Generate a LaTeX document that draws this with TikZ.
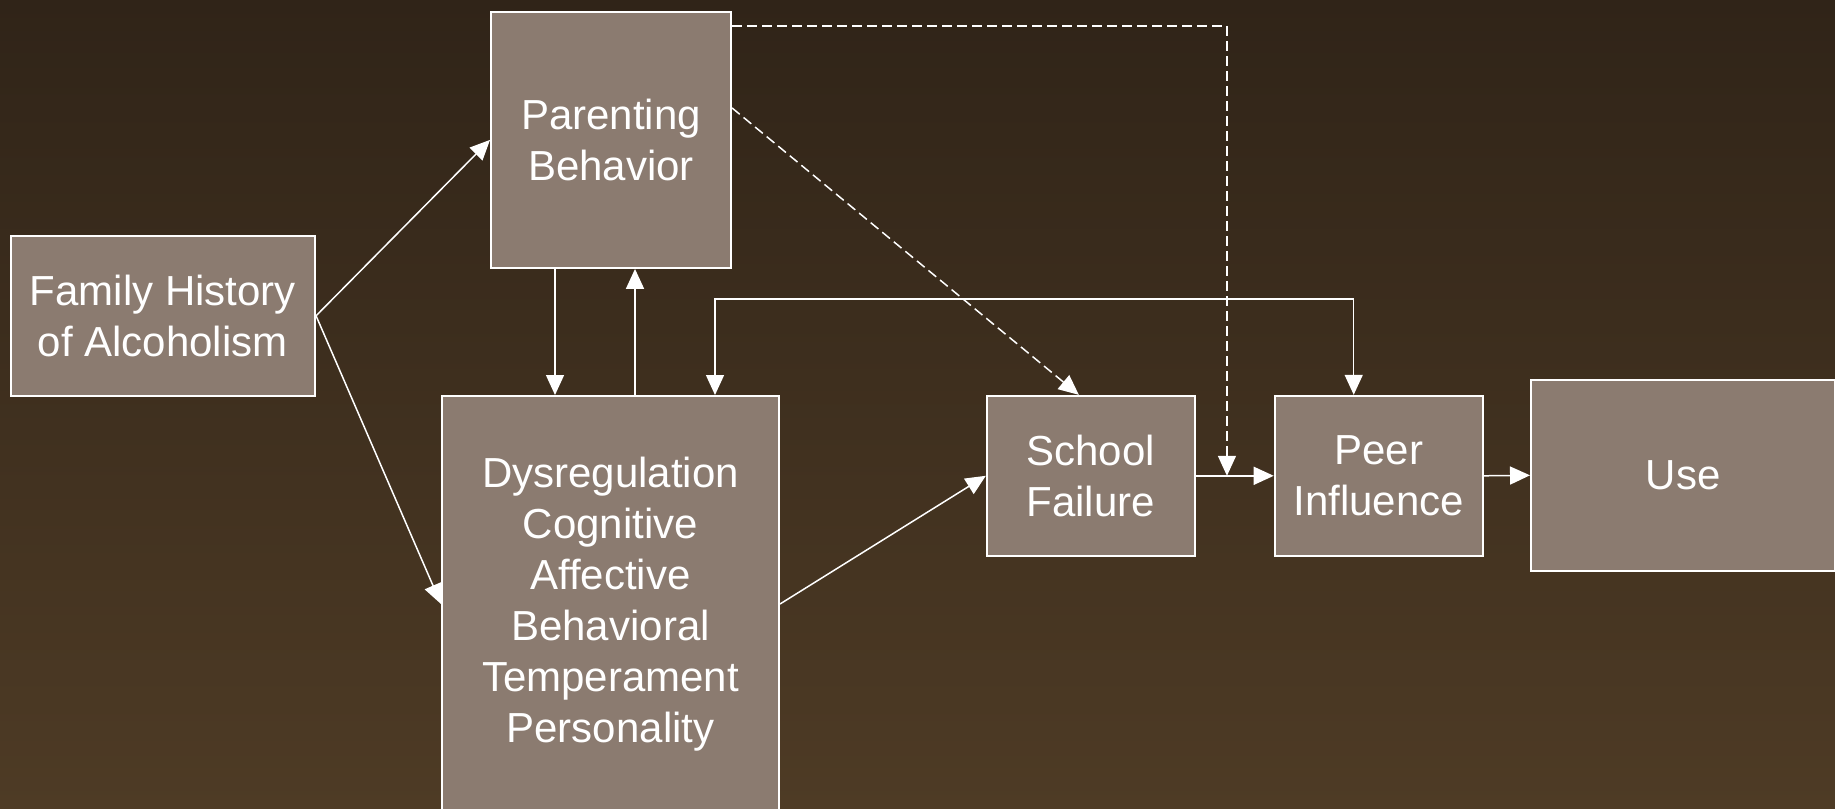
\documentclass[tikz,border=0pt]{standalone}
\usepackage{fontspec}
\setmainfont{Liberation Sans}
\usepackage{tikz}
\usetikzlibrary{arrows.meta,positioning,calc}
\definecolor{bgtop}{RGB}{48,36,24}
\definecolor{bgbottom}{RGB}{78,59,37}
\definecolor{boxfill}{RGB}{139,123,112}
\tikzset{
	box/.style = {draw=white,line width=2pt,fill=boxfill,text=white,align=center,inner sep=0pt,font=\fontsize{42}{51}\selectfont},
	link/.style = {draw=white,line width=1.5pt,->},
	hint/.style = {link,dash pattern=on 10pt off 5pt},
}
\begin{document}
\begin{tikzpicture}[x=1pt,y=-1pt,>={Triangle[length=20pt,width=18pt]}]
		\shade [top color=bgtop,bottom color=bgbottom] (0,0) rectangle (1835,808);
		\useasboundingbox (0,0) rectangle (1835,808);
		\node (family) at (162.8,315.8) [box,minimum width=304.5pt,minimum height=160.5pt] {Family History\\of Alcoholism};
		\node (parent) at (611,139.9) [box,minimum width=240pt,minimum height=256pt] {Parenting\\Behavior};
		\node (dysreg) at (610.5,604) [box,minimum width=337pt,minimum height=416pt] {Dysregulation\\Cognitive\\Affective\\Behavioral\\Temperament\\Personality};
		\node (school) at (1090.8,475.8) [box,minimum width=208pt,minimum height=160pt] {School\\Failure};
		\node (peer) at (1378.7,475.8) [box,minimum width=208pt,minimum height=160pt] {Peer\\Influence};
		\node (use) at (1683,475.3) [box,minimum width=304pt,minimum height=191pt] {Use};
		\coordinate (join) at ($(school.east)!0.4!(peer.west)$);
		% solid paths
		\path [link] (family.east) -- (parent.west);
		\path [link] (family.east) -- (dysreg.west);
		\path [link] ([xshift=-56pt]parent.south) -- ([xshift=-56pt]parent.south |- dysreg.north);
		\path [link] ([xshift=24pt]parent.south |- dysreg.north) -- ([xshift=24pt]parent.south);
		\path [link,<->] ([xshift=104.5pt]dysreg.north) -- ++(0,-96) -| ([xshift=-25pt]peer.north);
		\path [link] (dysreg.east) -- (school.west);
		\path [link] (school.east) -- (peer.west);
		\path [link] (peer.east) -- (use.west);
		% dashed paths
		\path [hint] ([yshift=32pt]parent.east) -- ([xshift=-12pt]school.north);
		\path [hint] ([yshift=-15pt]parent.north east) -| (join);
	\end{tikzpicture}
\end{document}
